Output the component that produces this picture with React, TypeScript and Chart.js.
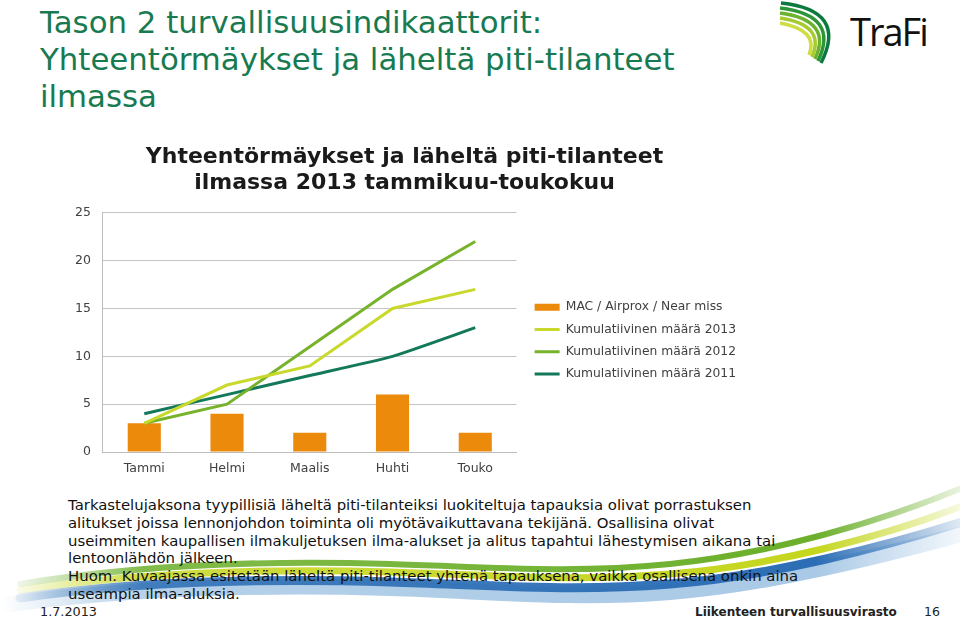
import React, { useEffect, useRef } from 'react';
import { Chart, registerables } from 'chart.js';

Chart.register(...registerables);

// ---- data ----
const categories = ['Tammi', 'Helmi', 'Maalis', 'Huhti', 'Touko'];
const macAirproxNearMiss = [3, 4, 2, 6, 2];
const cumulative2013 = [3, 7, 9, 15, 17];
const cumulative2012 = [3, 5, 11, 17, 22];
const cumulative2011 = [4, 6, 8, 10, 13];
const seriesLabels = [
  'MAC / Airprox / Near miss',
  'Kumulatiivinen määrä 2013',
  'Kumulatiivinen määrä 2012',
  'Kumulatiivinen määrä 2011',
];
const yMin = 0;
const yMax = 25;
const yStep = 5;
const chartTitle = ['Yhteentörmäykset ja läheltä piti-tilanteet', 'ilmassa 2013 tammikuu-toukokuu'];

const pageTitleLines = [
  'Tason 2 turvallisuusindikaattorit:',
  'Yhteentörmäykset ja läheltä piti-tilanteet',
  'ilmassa',
];
const bodyLines = [
  'Tarkastelujaksona tyypillisiä läheltä piti-tilanteiksi luokiteltuja tapauksia olivat porrastuksen',
  'alitukset joissa lennonjohdon toiminta oli myötävaikuttavana tekijänä. Osallisina olivat',
  'useimmiten kaupallisen ilmakuljetuksen ilma-alukset ja alitus tapahtui lähestymisen aikana tai',
  'lentoonlähdön jälkeen.',
  'Huom. Kuvaajassa esitetään läheltä piti-tilanteet yhtenä tapauksena, vaikka osallisena onkin aina',
  'useampia ilma-aluksia.',
];
const footerDate = '1.7.2013';
const footerOrg = 'Liikenteen turvallisuusvirasto';
const footerPage = '16';

const FONT = '"DejaVu Sans", Verdana, sans-serif';
const COL_BAR = '#EC8A0B';
const COL_2013 = '#C8D92C';
const COL_2012 = '#77B22B';
const COL_2011 = '#13795A';

function ChartBlock() {
  const ref = useRef<HTMLCanvasElement | null>(null);
  useEffect(() => {
    if (!ref.current) return;
    const lineDs = (label: string, data: number[], color: string, tension: number) => ({
      type: 'line' as const,
      label,
      data,
      borderColor: color,
      backgroundColor: color,
      borderWidth: 3,
      pointRadius: 0,
      pointHoverRadius: 0,
      pointStyle: 'line',
      pointBorderWidth: 3,
      pointBorderColor: color,
      pointBackgroundColor: color,
      tension,
      fill: false,
      order: 0,
    });
    const chart = new Chart(ref.current, {
      type: 'bar',
      data: {
        labels: categories,
        datasets: [
          {
            type: 'bar',
            label: seriesLabels[0],
            data: macAirproxNearMiss,
            backgroundColor: COL_BAR,
            borderWidth: 0,
            barPercentage: 0.5,
            categoryPercentage: 0.8,
            pointStyle: 'rect',
            order: 1,
          } as any,
          lineDs(seriesLabels[1], cumulative2013, COL_2013, 0),
          lineDs(seriesLabels[2], cumulative2012, COL_2012, 0),
          lineDs(seriesLabels[3], cumulative2011, COL_2011, 0.15),
        ],
      },
      options: {
        responsive: false,
        animation: false,
        devicePixelRatio: 1,
        layout: { padding: { left: 3, right: 6, top: 0, bottom: 0 } },
        plugins: {
          title: {
            display: true,
            text: chartTitle,
            color: '#1a1a1a',
            font: { family: FONT, size: 22, weight: 'bold', lineHeight: 1.2 },
            padding: { top: 4, bottom: 16 },
          },
          legend: {
            position: 'right',
            fullSize: false,
            align: 'center',
            maxWidth: 320,
            title: { display: true, text: ' ', font: { size: 12 }, padding: 1 },
            labels: {
              usePointStyle: true,
              pointStyleWidth: 25,
              boxWidth: 25,
              boxHeight: 7,
              padding: 10,
              color: '#404040',
              font: { family: FONT, size: 12.3 },
              sort: (a: any, b: any) => a.datasetIndex - b.datasetIndex,
            },
          },
          tooltip: { enabled: false },
        },
        scales: {
          x: {
            grid: { display: false, drawTicks: false },
            border: { display: true, color: '#BDBDBD' },
            ticks: { color: '#404040', font: { family: FONT, size: 12.5 }, padding: 9 },
          },
          y: {
            min: yMin,
            max: yMax,
            grid: { color: '#C4C4C4', drawTicks: false },
            border: { display: true, color: '#BDBDBD' },
            ticks: { stepSize: yStep, color: '#404040', font: { family: FONT, size: 12.5 }, padding: 12 },
          },
          gap: {
            position: 'right',
            display: true,
            min: 0,
            max: 1,
            grid: { display: false, drawOnChartArea: false, drawTicks: false },
            border: { display: false },
            ticks: { display: false },
            afterFit: (s: any) => {
              s.width = 8;
            },
          },
        },
      } as any,
    });
    return () => chart.destroy();
  }, []);
  return (
    <div style={{ position: 'absolute', left: 60, top: 140, width: 692, height: 345 }}>
      <canvas ref={ref} width={692} height={345} style={{ width: 692, height: 345, display: 'block' }} />
    </div>
  );
}

function Swoosh() {
  const bands = [
    { id: 'gLight', color: '#A9C9E6', w: 16, d: 'M 10 604 C 130 588, 260 584, 390 588 C 490 591, 570 600, 670 592 C 770 584, 880 556, 962 534' },
    { id: 'gBlue', color: '#2C6EB5', w: 9, d: 'M 20 598 C 130 582, 260 578, 390 582 C 490 585, 570 592, 670 584 C 770 576, 880 548, 962 522' },
    { id: 'gYel', color: '#C5D61E', w: 7, d: 'M 20 590 C 130 574, 260 568, 390 572 C 490 575, 570 582, 670 574 C 770 566, 880 538, 962 506' },
    { id: 'gGreen', color: '#6BAF2A', w: 6, d: 'M 20 584 C 130 566, 260 560, 390 564 C 490 567, 570 574, 670 564 C 770 554, 880 522, 962 488' },
  ];
  return (
    <svg width={960} height={620} style={{ position: 'absolute', left: 0, top: 0 }}>
      <defs>
        {bands.map((b) => (
          <linearGradient key={b.id} id={b.id} gradientUnits="userSpaceOnUse" x1={0} y1={0} x2={960} y2={0}>
            <stop offset="0" stopColor={b.color} stopOpacity={0} />
            <stop offset="0.15" stopColor={b.color} stopOpacity={0.85} />
            <stop offset="0.85" stopColor={b.color} stopOpacity={1} />
            <stop offset="1" stopColor={b.color} stopOpacity={0.15} />
          </linearGradient>
        ))}
      </defs>
      {bands.map((b) => (
        <path key={b.id} d={b.d} fill="none" stroke={`url(#${b.id})`} strokeWidth={b.w} strokeLinecap="round" />
      ))}
    </svg>
  );
}

function Logo() {
  const arcs = [
    { c: '#0A7A3E', d: 'M 781 3 Q 848 10 821 63' },
    { c: '#2D9638', d: 'M 780 8 Q 840 15 818 61' },
    { c: '#6BB22E', d: 'M 780 13 Q 833 20 815 59' },
    { c: '#A5CB32', d: 'M 780 18 Q 826 25 812 57' },
    { c: '#CFDD45', d: 'M 780 23 Q 819 30 809 55' },
  ];
  return (
    <>
      <svg width={960} height={80} style={{ position: 'absolute', left: 0, top: 0 }}>
        {arcs.map((a, i) => (
          <path key={i} d={a.d} fill="none" stroke={a.c} strokeWidth={3.5} />
        ))}
      </svg>
      <div
        style={{
          position: 'absolute',
          left: 850,
          top: 8,
          fontFamily: '"Open Sans", sans-serif',
          fontSize: 38,
          lineHeight: '46px',
          letterSpacing: -2,
          color: '#111',
          whiteSpace: 'pre',
        }}
      >
        TraFi
      </div>
    </>
  );
}

const pre: React.CSSProperties = { whiteSpace: 'pre' };

export default function App() {
  return (
    <div
      style={{
        position: 'absolute',
        left: 0,
        top: 0,
        width: 960,
        height: 620,
        overflow: 'hidden',
        background: '#fff',
        fontFamily: FONT,
      }}
    >
      <Swoosh />
      <Logo />
      <div
        style={{
          position: 'absolute',
          left: 40,
          top: 4,
          fontSize: 30.8,
          lineHeight: '37px',
          color: '#177A50',
          ...pre,
        }}
      >
        {pageTitleLines.map((l, i) => (
          <div key={i}>{l}</div>
        ))}
      </div>
      <ChartBlock />
      <div
        style={{
          position: 'absolute',
          left: 68,
          top: 497,
          fontSize: 14.9,
          lineHeight: '17.8px',
          color: '#111',
          ...pre,
        }}
      >
        {bodyLines.map((l, i) => (
          <div key={i}>{l}</div>
        ))}
      </div>
      <div style={{ position: 'absolute', left: 40, top: 603, fontSize: 12.8, lineHeight: '18px', color: '#222', ...pre }}>
        {footerDate}
      </div>
      <div
        style={{
          position: 'absolute',
          left: 695,
          top: 603,
          fontSize: 12,
          lineHeight: '18px',
          fontWeight: 'bold',
          color: '#222',
          ...pre,
        }}
      >
        {footerOrg}
      </div>
      <div style={{ position: 'absolute', left: 924, top: 603, fontSize: 12.5, lineHeight: '18px', color: '#222', ...pre }}>
        {footerPage}
      </div>
    </div>
  );
}
